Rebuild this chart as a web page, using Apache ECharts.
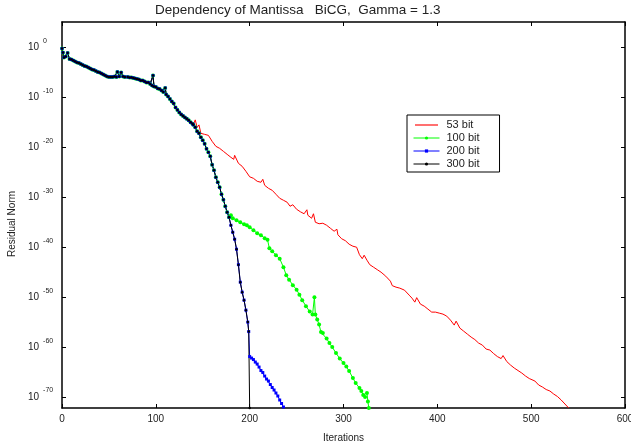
<!DOCTYPE html>
<html>
<head>
<meta charset="utf-8">
<script src="https://cdn.jsdelivr.net/npm/echarts@6/dist/echarts.min.js"></script>
<style>
html,body{margin:0;padding:0;background:#fff}
#main{width:631px;height:447px}
</style>
</head>
<body>
<div id="main"></div>
<script>
var seriesNames = ['53 bit', '100 bit', '200 bit', '300 bit'];
var seriesColors = ['#ff0000', '#00ff00', '#0000ff', '#000000'];
var yExpTicks = [0, -10, -20, -30, -40, -50, -60, -70];

// common start, every run follows the same path here (log10 of residual)
var trunkIter = [0, 1, 2, 4, 6, 8, 10, 12, 14, 16, 18, 20, 22, 24, 26, 28, 30, 32, 34, 36, 38, 40, 42, 44, 46, 48, 50, 52, 54, 56, 58, 59, 61, 63, 65, 67, 70, 72, 74, 76, 78, 80, 82, 84, 86, 88, 90, 92, 94, 96, 97, 98, 100, 102, 104, 106, 108, 110, 111, 113, 115, 117, 119, 121, 123, 125, 127, 129, 131, 133, 135, 137, 139, 140];
var trunkLog = [-0.2, -1.0, -2.0, -1.8, -1.1, -2.3, -2.4, -2.6, -2.8, -3.0, -3.1, -3.3, -3.5, -3.7, -3.8, -4.0, -4.2, -4.4, -4.5, -4.7, -4.9, -5.0, -5.2, -5.4, -5.6, -5.8, -5.9, -5.9, -5.9, -5.8, -5.9, -4.9, -5.8, -5.0, -5.8, -5.9, -5.9, -6.0, -6.0, -6.1, -6.2, -6.3, -6.4, -6.6, -6.6, -6.8, -7.0, -7.0, -7.3, -7.6, -5.6, -7.8, -7.9, -8.2, -8.3, -8.6, -8.9, -8.1, -9.4, -9.8, -10.3, -10.8, -11.2, -12.0, -12.5, -13.0, -13.4, -13.7, -14.0, -14.3, -14.6, -15.0, -15.3, -15.5];

// 53 bit after it leaves the others
var red53Iter = [142, 144, 146, 148, 152, 156, 160, 164, 168, 172, 176, 180, 183, 184, 188, 192, 196, 200, 204, 208, 212, 214, 216, 220, 224, 228, 232, 236, 240, 243, 246, 250, 254, 258, 261, 262, 266, 268, 270, 274, 278, 282, 286, 290, 293, 294, 298, 302, 306, 310, 314, 317, 320, 322, 325, 328, 332, 336, 340, 345, 350, 352, 356, 360, 365, 370, 373, 376, 378, 382, 386, 390, 394, 398, 402, 406, 410, 414, 418, 420, 424, 428, 432, 436, 440, 444, 448, 452, 456, 460, 464, 468, 470, 474, 478, 482, 486, 490, 494, 498, 500, 504, 508, 512, 516, 520, 524, 528, 532, 536, 540];
var red53Log = [-14.5, -16.0, -15.5, -17.2, -17.4, -17.6, -18.8, -19.8, -20.2, -20.8, -21.4, -22.0, -22.4, -21.6, -23.2, -23.8, -24.8, -25.9, -26.2, -26.8, -27.0, -26.4, -27.6, -28.2, -28.6, -29.4, -30.2, -30.6, -31.0, -31.8, -31.5, -32.4, -32.9, -33.3, -32.5, -33.6, -34.2, -33.3, -35.0, -35.3, -35.2, -35.6, -36.2, -36.8, -36.4, -37.5, -38.3, -38.7, -39.4, -39.8, -40.0, -41.5, -42.3, -41.6, -42.6, -43.5, -44.0, -44.5, -45.0, -45.8, -46.8, -47.7, -48.0, -48.2, -48.6, -49.6, -50.2, -51.0, -50.1, -51.4, -51.8, -52.4, -53.0, -53.0, -53.2, -53.4, -53.8, -54.6, -55.6, -54.8, -56.2, -56.8, -57.4, -58.0, -58.5, -59.2, -59.6, -60.4, -60.6, -61.3, -61.9, -62.3, -61.7, -62.9, -63.6, -64.2, -64.7, -65.2, -65.8, -66.3, -66.1, -66.8, -67.6, -68.0, -68.5, -68.8, -69.4, -69.9, -70.6, -71.4, -72.2];

// 100, 200 and 300 bit together until ~178
var steepIter = [142, 144, 146, 148, 150, 152, 154, 156, 158, 160, 162, 164, 166, 168, 170, 172, 174, 176, 178];
var steepLog = [-16.0, -16.8, -17.2, -18.0, -18.6, -19.3, -20.3, -21.0, -21.8, -23.5, -24.6, -26.0, -27.0, -28.0, -29.4, -30.5, -31.8, -33.0, -34.0];

// 100 bit tail
var green100Iter = [180, 182, 186, 190, 194, 197, 200, 204, 208, 212, 216, 219, 221, 224, 228, 232, 236, 239, 242, 246, 250, 253, 256, 260, 264, 267, 269, 270, 272, 274, 276, 278, 282, 285, 288, 292, 296, 300, 303, 306, 310, 313, 317, 319, 321, 323, 325, 326, 327];
var green100Log = [-33.6, -34.2, -34.6, -35.0, -35.4, -35.6, -36.0, -36.6, -37.2, -37.6, -38.2, -38.5, -40.2, -40.8, -41.6, -42.3, -44.0, -45.6, -46.5, -47.6, -48.5, -49.5, -50.6, -51.8, -52.9, -53.5, -50.0, -53.5, -54.5, -55.5, -57.0, -57.2, -58.3, -59.2, -60.0, -61.2, -62.3, -63.2, -63.9, -64.8, -66.2, -67.2, -68.2, -68.8, -69.6, -70.0, -69.2, -70.9, -72.2];

// 200 and 300 bit together until 199
var deepIter = [180, 182, 184, 186, 188, 190, 192, 194, 196, 198, 199];
var deepLog = [-35.6, -37.0, -38.4, -40.4, -43.5, -47.0, -49.0, -50.6, -52.6, -55.0, -56.9];

// 200 bit tail
var blue200Iter = [200, 202, 204, 206, 208, 210, 212, 214, 216, 218, 220, 222, 224, 226, 228, 230, 232, 234, 236];
var blue200Log = [-61.9, -62.2, -62.5, -63.0, -63.4, -64.0, -64.7, -65.1, -65.8, -66.4, -66.8, -67.5, -68.1, -68.6, -69.2, -69.8, -70.6, -71.3, -72.0];

// 300 bit: straight drop at 200
var black300Iter = [200];
var black300Log = [-72.2];

function pairs(xs, ys) {
    var out = [];
    for (var i = 0; i < xs.length; i++) out.push([xs[i], ys[i]]);
    return out;
}

var trunk = pairs(trunkIter, trunkLog);
var steep = pairs(steepIter, steepLog);
var deep = pairs(deepIter, deepLog);
var seriesData = [
    trunk.concat(pairs(red53Iter, red53Log)),
    trunk.concat(steep, pairs(green100Iter, green100Log)),
    trunk.concat(steep, deep, pairs(blue200Iter, blue200Log)),
    trunk.concat(steep, deep, pairs(black300Iter, black300Log))
];

var fontFam = '"Liberation Sans", Arial, sans-serif';
var frameLine = {onZero: false, lineStyle: {color: '#000', width: 1.5}};
var innerTick = {inside: true, length: 4, lineStyle: {color: '#000', width: 1}};

var symbols = ['none', 'circle', 'rect', 'circle'];
var symbolSizes = [0, 4, 3, 2.5];

// legend icon for the plain red line: thick bar in the middle of the icon box
var barIcon = 'path://M0,0L0.01,0M0,1L23,1L23,3L0,3ZM0,4L0.01,4';

var option = {
    animation: false,
    backgroundColor: '#fff',
    title: {
        text: 'Dependency of Mantissa   BiCG,  Gamma = 1.3',
        left: 155,
        top: 3,
        padding: 0,
        textStyle: {fontFamily: fontFam, fontSize: 13.5, fontWeight: 'normal', color: '#222'}
    },
    legend: {
        data: [{name: '53 bit', icon: barIcon, itemStyle: {color: '#ff7070'}}, '100 bit', '200 bit', '300 bit'],
        orient: 'vertical',
        left: 407,
        top: 115,
        padding: [4, 20, 2, 6],
        itemGap: 1,
        itemWidth: 26,
        itemHeight: 4,
        lineStyle: {width: 1},
        backgroundColor: '#fff',
        borderColor: '#000',
        borderWidth: 1,
        borderRadius: 0,
        textStyle: {fontFamily: fontFam, fontSize: 11, lineHeight: 12, color: '#222', padding: [0, 0, 0, 2]}
    },
    grid: {left: 62, top: 22, right: 6, bottom: 39, outerBoundsMode: 'none', containLabel: false},
    xAxis: [{
        type: 'value', min: 0, max: 600, interval: 100,
        axisLine: frameLine, axisTick: innerTick,
        axisLabel: {fontFamily: fontFam, fontSize: 10, color: '#222', margin: 6},
        splitLine: {show: false},
        name: 'Iterations', nameLocation: 'middle', nameGap: 25,
        nameTextStyle: {fontFamily: fontFam, fontSize: 10, color: '#222'}
    }, {
        type: 'value', position: 'top', min: 0, max: 600, interval: 100,
        axisLine: frameLine, axisTick: innerTick,
        axisLabel: {show: false}, splitLine: {show: false}
    }],
    yAxis: [{
        type: 'value', min: -72.2, max: 5.1,
        axisLine: frameLine,
        axisTick: {inside: true, length: 4, lineStyle: {color: '#000'}, customValues: yExpTicks},
        axisLabel: {
            customValues: yExpTicks,
            align: 'left',
            margin: 34,
            formatter: function (v) { return '{b|10}{s|' + v + '}'; },
            rich: {
                b: {fontFamily: fontFam, fontSize: 10, color: '#222', lineHeight: 20},
                s: {fontFamily: fontFam, fontSize: 7, color: '#222', lineHeight: 7, verticalAlign: 'top', padding: [0, 0, 0, 4]}
            }
        },
        splitLine: {show: false},
        name: 'Residual Norm', nameLocation: 'middle', nameGap: 45,
        nameTextStyle: {fontFamily: fontFam, fontSize: 10, color: '#222', padding: [0, 18, 0, 0]}
    }, {
        type: 'value', position: 'right', min: -72.2, max: 5.1,
        axisLine: frameLine,
        axisTick: {inside: true, length: 4, lineStyle: {color: '#000'}, customValues: yExpTicks},
        axisLabel: {show: false}, splitLine: {show: false}
    }],
    series: seriesNames.map(function (name, i) {
        return {
            name: name,
            type: 'line',
            data: seriesData[i],
            color: seriesColors[i],
            symbol: symbols[i],
            symbolSize: symbolSizes[i],
            showSymbol: i > 0,
            lineStyle: {width: 1, color: seriesColors[i]},
            itemStyle: {color: seriesColors[i]},
            clip: true
        };
    })
};

var myChart = echarts.init(document.getElementById('main'));
myChart.setOption(option);
</script>
</body>
</html>
